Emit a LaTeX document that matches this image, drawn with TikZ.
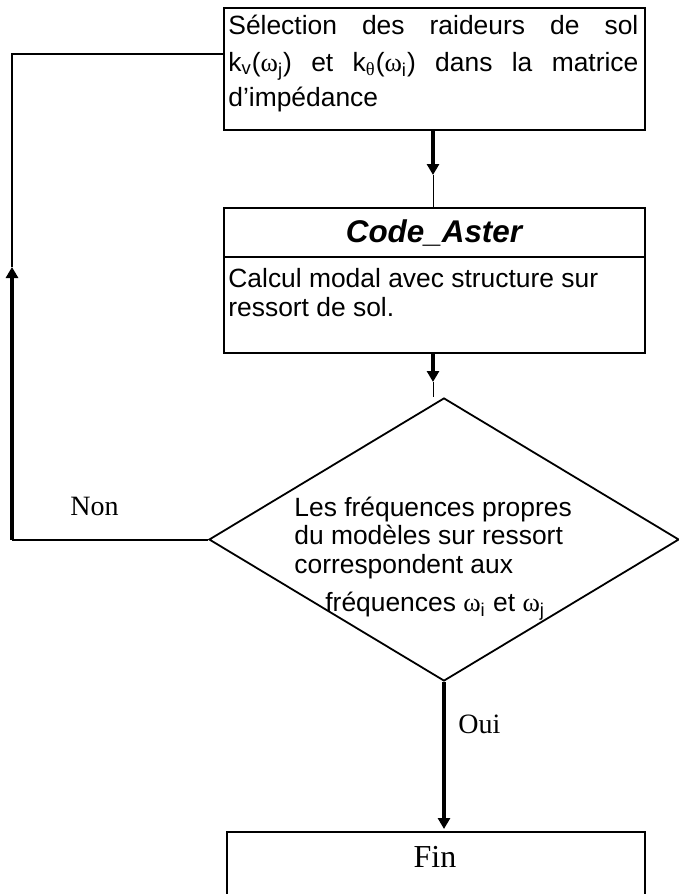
\documentclass[tikz,border=0pt]{standalone}
\usepackage{fontspec}
\setmainfont{Liberation Sans}
\newfontfamily\timesf{Liberation Serif}
\usetikzlibrary{arrows.meta,shapes.geometric}
\begin{document}
\begin{tikzpicture}[x=0.5pt,y=-0.5pt,
  box/.style={draw, line width=1pt, inner sep=0pt, anchor=north west},
  txt/.style={anchor=base west, inner sep=0pt, font=\fontsize{13.2pt}{15pt}\selectfont},
  tms/.style={anchor=base west, inner sep=0pt, font=\timesf\fontsize{14pt}{16pt}\selectfont},
  tip/.style={-{Triangle[width=6pt,length=5.5pt]}},
  thickarr/.style={line width=1.8pt, tip},
  thinline/.style={line width=0.5pt},
  ]
\useasboundingbox (0,0) rectangle (679,894);
% top box
\node[box, line width=1.2pt, minimum width=210.5pt, minimum height=61pt] (sel) at (223,7) {};
\node[txt] (l1) at (228,34) {\makebox[205pt][s]{Sélection des raideurs de sol}};
\node[txt] (l2) at (228,71) {\makebox[205pt][s]{k\textsubscript{v}({\timesf ω}\textsubscript{j}) et k\textsubscript{\timesf θ}({\timesf ω}\textsubscript{i}) dans la matrice}};
\node[txt] (l3) at (228,106) {d’impédance};
% code aster box
\node[box, minimum width=210.5pt, minimum height=72.5pt] (code) at (223,207) {};
\coordinate (hl) at (223,257);
\coordinate (hr) at (644,257);
\draw[line width=1.2pt] (hl) -- (hr);
\node[anchor=base, inner sep=0pt, font=\bfseries\itshape\fontsize{15.7pt}{17pt}\selectfont] (hdr) at (434,242) {Code\_Aster};
\node[txt] (c1) at (228,287) {Calcul modal avec structure sur};
\node[txt] (c2) at (228,316) {ressort de sol.};
% decision
\node[draw, diamond, line width=0.9pt, minimum width=235pt, minimum height=141.5pt, inner sep=0pt] (dec) at (444,539.5) {};
\node[txt] (d1) at (294,516) {Les fréquences propres};
\node[txt] (d2) at (294,544) {du modèles sur ressort};
\node[txt] (d3) at (294,573) {correspondent aux};
\node[txt] (d4) at (325,611) {fréquences {\timesf ω}\textsubscript{i} et {\timesf ω}\textsubscript{j}};
% fin box
\node[box, minimum width=209pt, minimum height=40pt] (fin) at (226,831) {};
\node[anchor=base, inner sep=0pt, font=\timesf\fontsize{16pt}{18pt}\selectfont] (fintxt) at (435,867) {Fin};
% arrows
\coordinate (a1) at (433,175);
\draw[thickarr] (sel.south -| a1) -- (a1);
\draw[thinline] (a1) -- (code.north -| a1);
\coordinate (a2) at (433,382);
\draw[thickarr] (code.south -| a2) -- (a2);
\draw[thinline] (a2) -- (a2 |- dec.north);
\coordinate (a3) at (444,829);
\draw[thickarr] (dec.south) -- (a3);
\node[tms] (oui) at (458,733) {Oui};
% feedback
\coordinate (fbtop) at (12,54);
\coordinate (fbbot) at (12,539.5);
\coordinate (fbarr) at (12,267);
\coordinate (selin) at (223,54);
\draw[line width=1pt] (dec.west) -- (fbbot);
\draw[line width=1.6pt, tip] (fbbot) -- (fbarr);
\draw[line width=1.2pt] (fbarr) -- (fbtop) -- (selin);
\node[tms] (non) at (70,515) {Non};
\end{tikzpicture}
\end{document}
